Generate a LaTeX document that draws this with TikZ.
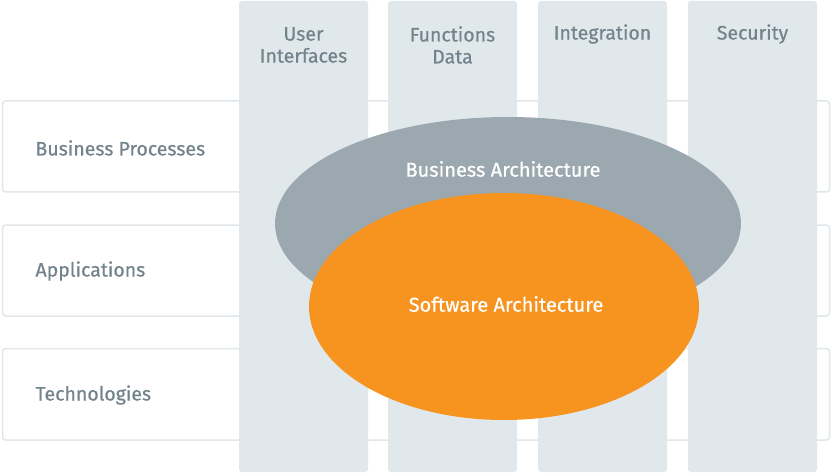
\documentclass[tikz,border=0pt]{standalone}
\usepackage{fontspec}
\setmainfont{Fira Sans}[FakeBold=0.6]
\definecolor{rowline}{HTML}{E1E7EA}
\definecolor{colfill}{HTML}{E1E8EC}
\definecolor{labelc}{HTML}{73838C}
\definecolor{grayell}{HTML}{9BA8B0}
\definecolor{orangeell}{HTML}{F7941F}
\tikzset{
  rowbox/.style={draw=rowline, line width=1.5pt, fill=white, rounded corners=3pt},
  colbox/.style={fill=colfill, rounded corners=3pt},
  rowlabel/.style={anchor=west, text=labelc, font=\fontsize{19.5}{22}\selectfont},
  collabel/.style={anchor=center, text=labelc, align=center, font=\fontsize{19.5}{22}\selectfont},
  elllabel/.style={text=white, font=\fontsize{20}{22}\selectfont},
}
\begin{document}
\begin{tikzpicture}[x=1pt,y=-1pt]
\useasboundingbox (0,0) rectangle (832,473);
% rows
\draw[rowbox] (2.5,101) rectangle (829.5,192);
\draw[rowbox] (2.5,225) rectangle (829.5,316);
\draw[rowbox] (2.5,348.5) rectangle (829.5,440);
% columns
\fill[colbox] (239,1) rectangle (368,472);
\fill[colbox] (388,1) rectangle (517,472);
\fill[colbox] (538,1) rectangle (667,472);
\fill[colbox] (688,1) rectangle (817,472);
% labels
\node[rowlabel] (bp) at (32,148) {Business Processes};
\node[rowlabel] (ap) at (32,271) {Applications};
\node[rowlabel] (te) at (32,395) {Technologies};
\node[collabel] (ui) at (303.5,45) {User\\Interfaces};
\node[collabel] (fd) at (452.5,45) {Functions\\Data};
\node[collabel] (in) at (602.5,34) {Integration};
\node[collabel] (se) at (752.5,34) {Security};
% ellipses
\fill[grayell] (508,223.5) ellipse [x radius=233, y radius=106.5];
\fill[orangeell] (504,306.5) ellipse [x radius=195, y radius=113.5];
\node[elllabel] (ba) at (503,169) {Business Architecture};
\node[elllabel] (sa) at (506,304) {Software Architecture};
\end{tikzpicture}
\end{document}
